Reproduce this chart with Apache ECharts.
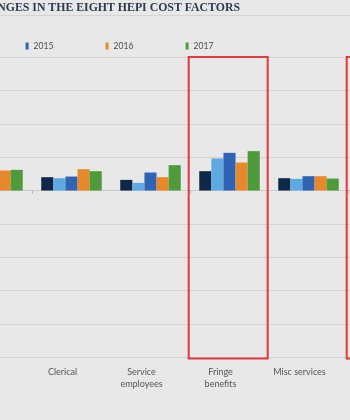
<!DOCTYPE html>
<html><head><meta charset="utf-8">
<script src="https://cdn.jsdelivr.net/npm/echarts@6/dist/echarts.min.js"></script>
<style>
html,body{margin:0;padding:0;width:350px;height:420px;overflow:hidden;background:#e8e8e8}
#c{position:absolute;left:-160px;top:0;width:700px;height:420px}
</style>
</head><body><div id="c"></div>
<script>
// ---- data ----
const categories = ['Faculty\nsalaries','Admin\nsalaries','Clerical','Service\nemployees','Fringe\nbenefits','Misc services','Supplies &\nmaterials','Utilities'];
const years = ['2013','2014','2015','2016','2017'];
const v2013 = [null, null, 0.40, 0.32, 0.58, 0.37, null, null];
const v2014 = [null, null, 0.37, 0.23, 0.96, 0.35, null, null];
const v2015 = [null, null, 0.42, 0.54, 1.13, 0.43, null, null];
const v2016 = [null, 0.60, 0.64, 0.40, 0.84, 0.43, null, null];
const v2017 = [null, 0.62, 0.58, 0.76, 1.18, 0.36, null, null];
const yMin = -5, yMax = 4, yStep = 1;
const highlighted = ['Fringe\nbenefits', 'Supplies &\nmaterials'];
const titleText = 'ANNUAL PERCENTAGE CHANGES IN THE EIGHT HEPI COST FACTORS';

const seriesValues = [v2013, v2014, v2015, v2016, v2017];
const colors = ['#0f2748', '#5ea9e2', '#2f63b4', '#e5892a', '#4f9a3a'];

const chart = echarts.init(document.getElementById('c'), null, {renderer: 'canvas'});
const option = {
  backgroundColor: '#e8e8e8',
  animation: false,
  color: colors,
  legend: {
    data: years,
    left: 20.6, top: 36,
    icon: 'rect', itemWidth: 3, itemHeight: 7, itemGap: 52,
    selectedMode: false,
    textStyle: {fontFamily: 'Lato', fontSize: 8.5, color: '#4a4a4a', width: 20, lineHeight: 10}
  },
  grid: {left: 34, right: 34, top: 57, bottom: 62.5},
  xAxis: [{
    type: 'category', data: categories, position: 'bottom',
    axisLine: {onZero: true, lineStyle: {color: '#cdcdcd', width: 1}},
    axisTick: {show: true, length: 3, lineStyle: {color: '#b5b5b5'}},
    axisLabel: {show: false},
    splitLine: {show: false}
  }, {
    type: 'category', data: categories, position: 'bottom',
    axisLine: {show: false, onZero: false},
    axisTick: {show: false},
    axisLabel: {show: true, interval: 0, fontFamily: 'Lato', fontSize: 9, color: '#555',
      lineHeight: 11.5, margin: 9, padding: [0, 18, 0, 0]},
    splitLine: {show: false}
  }],
  yAxis: {
    type: 'value', min: yMin, max: yMax, interval: yStep,
    axisLabel: {show: false}, axisLine: {show: false}, axisTick: {show: false},
    splitLine: {lineStyle: {color: '#d3d3d3', width: 1}}
  },
  series: years.map((y, i) => ({
    name: y, type: 'bar', xAxisIndex: 0, data: seriesValues[i],
    barWidth: 12.1, barGap: '0%',
    itemStyle: {color: colors[i]}
  }))
};
chart.setOption(option);

// annotations: title, rule under title, red highlight boxes around categories
const c0 = chart.convertToPixel({xAxisIndex: 0}, categories[0]);
const c1 = chart.convertToPixel({xAxisIndex: 0}, categories[1]);
const bw = c1 - c0;
const yTop = chart.convertToPixel({yAxisIndex: 0}, yMax);
const yBot = chart.convertToPixel({yAxisIndex: 0}, yMin);
const graphics = [
  {type: 'text', x: 400, y: 8, z: 10,
   style: {text: titleText, textAlign: 'right', align: 'right', textVerticalAlign: 'middle', verticalAlign: 'middle',
     fontFamily: '"Liberation Serif", serif', fontWeight: 'bold', fontSize: 11.8, fill: '#2b3a52'}},
  {type: 'line', z: 1, shape: {x1: 0, y1: 15.5, x2: 700, y2: 15.5}, style: {stroke: '#d4d4d4', lineWidth: 1}}
];
highlighted.forEach(cat => {
  const cx = chart.convertToPixel({xAxisIndex: 0}, cat);
  graphics.push({type: 'rect', z: 20,
    shape: {x: cx - bw / 2 - 1.3, y: yTop, width: bw, height: yBot - yTop + 1},
    style: {fill: 'none', stroke: '#e0393e', lineWidth: 2}});
});
chart.setOption({graphic: graphics});
</script>
</body></html>
